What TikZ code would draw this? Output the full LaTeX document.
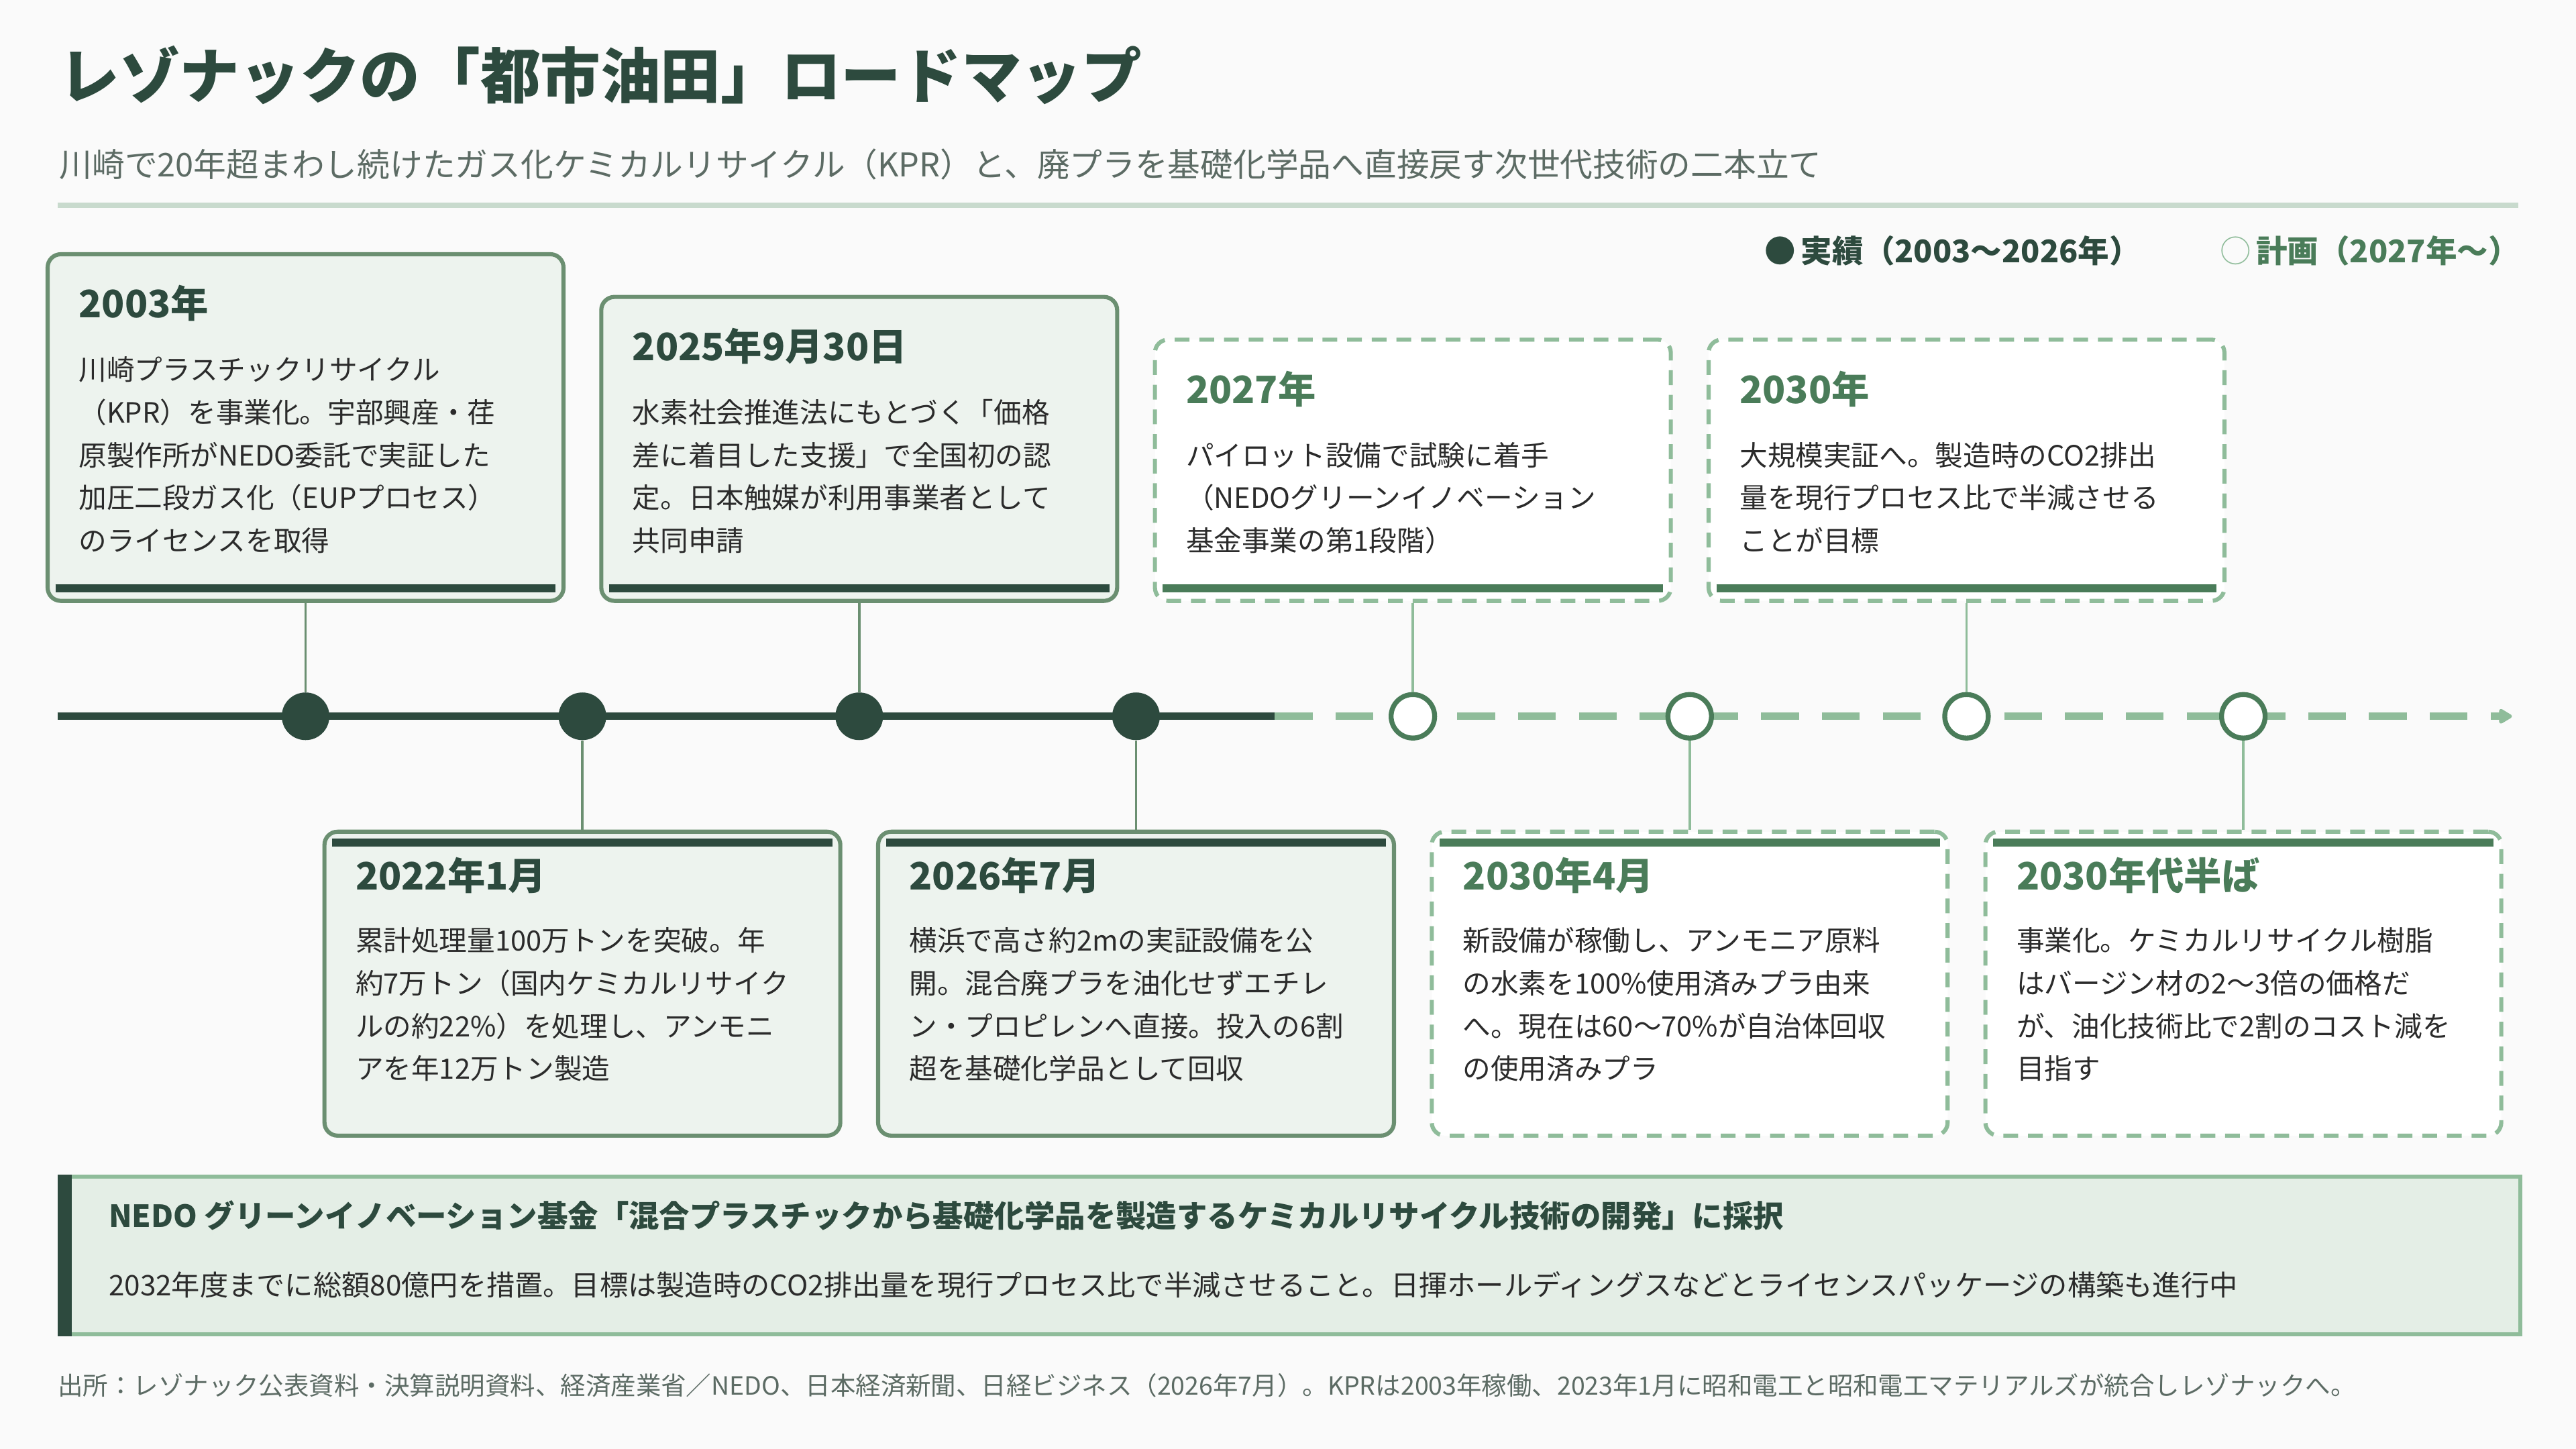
\documentclass[tikz,border=0pt]{standalone}
\usepackage{fontspec}
\setmainfont{Noto Sans CJK JP}
\usepackage{tikz}
\usetikzlibrary{arrows.meta}

\definecolor{darkgreen}{HTML}{2D4A3E}
\definecolor{midgreen}{HTML}{4A7C59}
\definecolor{lightgreen}{HTML}{8FBC9A}
\definecolor{pastline}{HTML}{6B8F71}
\definecolor{pastfill}{HTML}{EDF3EE}
\definecolor{panelfill}{HTML}{E4EEE6}
\definecolor{divider}{HTML}{C8DACD}
\definecolor{bgcol}{HTML}{FAFAFA}
\definecolor{bodycol}{HTML}{2B2B2B}
\definecolor{graytext}{HTML}{5C6B64}

\begin{document}
\begin{tikzpicture}[x=1pt,y=-1pt,
  pastbox/.style={draw=pastline,line width=2.5,fill=pastfill,rounded corners=8,minimum width=314,inner sep=0},
  planbox/.style={draw=lightgreen,line width=2.5,fill=white,rounded corners=8,minimum width=314,inner sep=0,dash pattern=on 9pt off 6pt},
  pastdot/.style={circle,fill=darkgreen,minimum size=29,inner sep=0},
  plandot/.style={circle,draw=midgreen,line width=3,fill=white,minimum size=26.5,inner sep=0},
  pastlink/.style={draw=pastline,line width=1.5},
  planlink/.style={draw=lightgreen,line width=1.5},
  pastbar/.style={draw=darkgreen,line width=5},
  planbar/.style={draw=midgreen,line width=5},
  pasttitle/.style={text=darkgreen,font=\fontsize{23}{27}\selectfont\bfseries,inner sep=0,anchor=base west},
  plantitle/.style={text=midgreen,font=\fontsize{23}{27}\selectfont\bfseries,inner sep=0,anchor=base west},
  bodytext/.style={text=bodycol,font=\fontsize{17}{26}\selectfont,text width=300,align=left,inner sep=0,anchor=base west}]

  % background
  \fill[bgcol] (0,0) rectangle (1568,882);
  \useasboundingbox (0,0) rectangle (1568,882);

  % heading
  \node[anchor=base west,inner sep=0,text=darkgreen,font=\fontsize{36.6}{40}\selectfont\bfseries] (title) at (36,60) {レゾナックの「都市油田」ロードマップ};
  \node[anchor=base west,inner sep=0,text=graytext,font=\fontsize{19.9}{24}\selectfont] (subtitle) at (36,107.5) {川崎で20年超まわし続けたガス化ケミカルリサイクル（KPR）と、廃プラを基礎化学品へ直接戻す次世代技術の二本立て};
  \draw[divider,line width=3] (35,125) -- (1533,125);

  % legend
  \node[anchor=base west,inner sep=0,text=darkgreen,font=\fontsize{19}{22}\selectfont\bfseries] (lgpast) at (1074,160) {●\,実績（2003〜2026年）};
  \node[anchor=base west,inner sep=0,text=midgreen,font=\fontsize{19}{22}\selectfont\bfseries] (lgplan) at (1351,160) {{\color{lightgreen}\mdseries ○}\,計画（2027年〜）};

  % timeline
  \coordinate (tlstart) at (35,436);
  \coordinate (tlmid) at (776,436);
  \coordinate (tlend) at (1529,436);
  \draw[darkgreen,line width=4.5] (tlstart) -- (tlmid);
  \draw[lightgreen,line width=4.5,dash pattern=on 23pt off 14pt,-{Triangle[round,length=9pt,width=10pt]}] (tlmid) -- (tlend);

  \node[pastdot] (d1) at (186,436) {};
  \node[pastdot] (d2) at (354.5,436) {};
  \node[pastdot] (d3) at (523,436) {};
  \node[pastdot] (d4) at (691.5,436) {};
  \node[plandot] (d5) at (860,436) {};
  \node[plandot] (d6) at (1028.5,436) {};
  \node[plandot] (d7) at (1197,436) {};
  \node[plandot] (d8) at (1365.5,436) {};

  % upper row
  \node[pastbox,minimum height=211,anchor=south] (b1) at (186,367) {};
  \node[pasttitle] (t1) at ([xshift=20,yshift=-40]b1.north west) {2003年};
  \node[bodytext] (x1) at ([xshift=20,yshift=-78]b1.north west) {川崎プラスチックリサイクル\\（KPR）を事業化。宇部興産・荏\\原製作所がNEDO委託で実証した\\加圧二段ガス化（EUPプロセス）\\のライセンスを取得};
  \draw[pastbar] ([xshift=6,yshift=9]b1.south west) -- ([xshift=-6,yshift=9]b1.south east);

  \node[pastbox,minimum height=185,anchor=south] (b3) at (523,367) {};
  \node[pasttitle] (t3) at ([xshift=20,yshift=-40]b3.north west) {2025年9月30日};
  \node[bodytext] (x3) at ([xshift=20,yshift=-78]b3.north west) {水素社会推進法にもとづく「価格\\差に着目した支援」で全国初の認\\定。日本触媒が利用事業者として\\共同申請};
  \draw[pastbar] ([xshift=6,yshift=9]b3.south west) -- ([xshift=-6,yshift=9]b3.south east);

  \node[planbox,minimum height=159,anchor=south] (b5) at (860,367) {};
  \node[plantitle] (t5) at ([xshift=20,yshift=-40]b5.north west) {2027年};
  \node[bodytext] (x5) at ([xshift=20,yshift=-78]b5.north west) {パイロット設備で試験に着手\\（NEDOグリーンイノベーション\\基金事業の第1段階）};
  \draw[planbar] ([xshift=6,yshift=9]b5.south west) -- ([xshift=-6,yshift=9]b5.south east);

  \node[planbox,minimum height=159,anchor=south] (b7) at (1197,367) {};
  \node[plantitle] (t7) at ([xshift=20,yshift=-40]b7.north west) {2030年};
  \node[bodytext] (x7) at ([xshift=20,yshift=-78]b7.north west) {大規模実証へ。製造時のCO2排出\\量を現行プロセス比で半減させる\\ことが目標};
  \draw[planbar] ([xshift=6,yshift=9]b7.south west) -- ([xshift=-6,yshift=9]b7.south east);

  % lower row
  \node[pastbox,minimum height=185,anchor=north] (b2) at (354.5,505) {};
  \node[pasttitle] (t2) at ([xshift=20,yshift=-36.5]b2.north west) {2022年1月};
  \node[bodytext] (x2) at ([xshift=20,yshift=-74]b2.north west) {累計処理量100万トンを突破。年\\約7万トン（国内ケミカルリサイク\\ルの約22\%）を処理し、アンモニ\\アを年12万トン製造};
  \draw[pastbar] ([xshift=6,yshift=-8]b2.north west) -- ([xshift=-6,yshift=-8]b2.north east);

  \node[pastbox,minimum height=185,anchor=north] (b4) at (691.5,505) {};
  \node[pasttitle] (t4) at ([xshift=20,yshift=-36.5]b4.north west) {2026年7月};
  \node[bodytext] (x4) at ([xshift=20,yshift=-74]b4.north west) {横浜で高さ約2mの実証設備を公\\開。混合廃プラを油化せずエチレ\\ン・プロピレンへ直接。投入の6割\\超を基礎化学品として回収};
  \draw[pastbar] ([xshift=6,yshift=-8]b4.north west) -- ([xshift=-6,yshift=-8]b4.north east);

  \node[planbox,minimum height=185,anchor=north] (b6) at (1028.5,505) {};
  \node[plantitle] (t6) at ([xshift=20,yshift=-36.5]b6.north west) {2030年4月};
  \node[bodytext] (x6) at ([xshift=20,yshift=-74]b6.north west) {新設備が稼働し、アンモニア原料\\の水素を100\%使用済みプラ由来\\へ。現在は60〜70\%が自治体回収\\の使用済みプラ};
  \draw[planbar] ([xshift=6,yshift=-8]b6.north west) -- ([xshift=-6,yshift=-8]b6.north east);

  \node[planbox,minimum height=185,anchor=north] (b8) at (1365.5,505) {};
  \node[plantitle] (t8) at ([xshift=20,yshift=-36.5]b8.north west) {2030年代半ば};
  \node[bodytext] (x8) at ([xshift=20,yshift=-74]b8.north west) {事業化。ケミカルリサイクル樹脂\\はバージン材の2〜3倍の価格だ\\が、油化技術比で2割のコスト減を\\目指す};
  \draw[planbar] ([xshift=6,yshift=-8]b8.north west) -- ([xshift=-6,yshift=-8]b8.north east);

  % links
  \draw[pastlink] (d1) -- (b1);
  \draw[pastlink] (d2) -- (b2);
  \draw[pastlink] (d3) -- (b3);
  \draw[pastlink] (d4) -- (b4);
  \draw[planlink] (d5) -- (b5);
  \draw[planlink] (d6) -- (b6);
  \draw[planlink] (d7) -- (b7);
  \draw[planlink] (d8) -- (b8);

  % NEDO panel
  \node[fill=panelfill,draw=lightgreen,line width=2.5,minimum width=1498,minimum height=96,inner sep=0,anchor=north west] (np) at (35,715) {};
  \draw[darkgreen,line width=8.5] ([xshift=4.5]np.north west) -- ([xshift=4.5]np.south west);
  \node[anchor=base west,inner sep=0,text=darkgreen,font=\fontsize{18.55}{23}\selectfont\bfseries] (nptitle) at (66,747) {NEDO グリーンイノベーション基金「混合プラスチックから基礎化学品を製造するケミカルリサイクル技術の開発」に採択};
  \node[anchor=base west,inner sep=0,text=bodycol,font=\fontsize{17.25}{21}\selectfont] (nptext) at (66,788.5) {2032年度までに総額80億円を措置。目標は製造時のCO2排出量を現行プロセス比で半減させること。日揮ホールディングスなどとライセンスパッケージの構築も進行中};

  % source
  \node[anchor=base west,inner sep=0,text=graytext,font=\fontsize{15.3}{18}\selectfont] (source) at (35,849) {出所：レゾナック公表資料・決算説明資料、経済産業省／NEDO、日本経済新聞、日経ビジネス（2026年7月）。KPRは2003年稼働、2023年1月に昭和電工と昭和電工マテリアルズが統合しレゾナックへ。};
\end{tikzpicture}
\end{document}
